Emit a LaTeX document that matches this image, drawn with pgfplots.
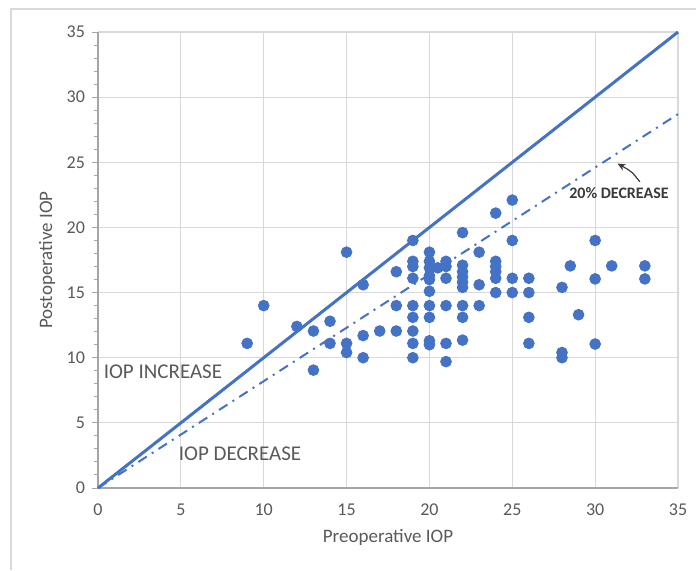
\documentclass[border=0pt]{standalone}
\usepackage{pgfplots}
\pgfplotsset{compat=1.18}
\usepackage{fontspec}
\setmainfont{Carlito}
\usetikzlibrary{arrows.meta}
\definecolor{xblue}{HTML}{4472C4}
\definecolor{xgrid}{HTML}{D9D9D9}
\definecolor{xtext}{HTML}{595959}
\definecolor{xdark}{HTML}{3A3A3A}
\begin{document}
\begin{tikzpicture}
\useasboundingbox (-49pt,-41pt) rectangle (299pt,244pt);
\draw[xgrid, line width=0.6pt] (-43.5pt,-41pt) -- (-43.5pt,239.5pt) -- (299pt,239.5pt);
\begin{axis}[
  scale only axis, width=290pt, height=228pt,
  xmin=0, xmax=35, ymin=0, ymax=35,
  xtick={0,5,...,35}, ytick={0,5,...,35},
  minor y tick num=4,
  grid=major, major grid style={xgrid, line width=0.6pt},
  axis x line*=bottom, axis y line*=left,
  x axis line style={draw=gray!70, line width=0.6pt},
  y axis line style={draw=gray!70, line width=0.6pt},
  tick style={gray!70, line width=0.5pt},
  major tick length=3pt, minor tick length=2pt,
  xtick style={draw=none},
  tick align=outside,
  /pgf/number format/assume math mode=true,
  ticklabel style={font=\fontsize{9}{10}\selectfont, text=xtext},
  xticklabel style={yshift=-1.5pt},
  yticklabel style={xshift=0pt},
  xlabel={Preoperative IOP}, ylabel={Postoperative IOP},
  every axis x label/.style={at={(axis description cs:0.5,0)}, anchor=center, yshift=-24.5pt, font=\fontsize{9.5}{11}\selectfont, text=xtext},
  every axis y label/.style={at={(axis description cs:0,0.5)}, rotate=90, anchor=center, yshift=25.5pt, font=\fontsize{9.5}{11}\selectfont, text=xtext},
  clip=false,
]
\addplot[xblue, line width=1.5pt] coordinates {(0,0) (35,35)};
\addplot[xblue, line width=1pt, dash pattern=on 5pt off 3pt on 1pt off 3pt] coordinates {(0,0) (35,28.7)};
\addplot[only marks, mark=*, mark size=2.7pt, mark options={fill=xblue, draw=xblue}] table {
x y
9 11.1
10 14
12 12.4
13 12.05
13 9.05
14 12.8
14 11.1
15 18.1
15 11.1
15 10.4
16 15.6
16 11.7
16 10
17 12.05
18 16.6
18 14
18 12.05
19 19
19 17.4
19 17
19 16.1
19 14
19 13.1
19 12.05
19 11.1
19 10
20 18.1
20 17.4
20 16.9
20 16.3
20 16
20 15.1
20 14
20 13.1
20 11.3
20 11
20.5 16.9
21 17.4
21 17
21 16.1
21 14
21 11.1
21 9.7
22 19.6
22 17.1
22 16.6
22 16.2
22 15.8
22 15.4
22 14
22 13.1
22 11.35
23 18.1
23 15.6
23 14
24 21.1
24 17.4
24 17
24 16.6
24 16.1
24 15
25 22.1
25 19
25 16.1
25 15
26 16.1
26 15
26 13.1
26 11.1
28 15.4
28 10.4
28 10
28.5 17.05
29 13.3
30 19
30 16.05
30 11.05
31 17.05
33 17.05
33 16.05
};
\node[font=\fontsize{10.5}{12}\selectfont, text=xtext] at (axis cs:3.92,8.9) {IOP INCREASE};
\node[font=\fontsize{10.5}{12}\selectfont, text=xtext] at (axis cs:8.57,2.61) {IOP DECREASE};
\node[font=\bfseries\fontsize{8}{9}\selectfont, text=xdark] at (axis cs:31.44,22.64) {20\% DECREASE};
\draw[xdark, line width=0.6pt, -{Stealth[length=4pt,width=3.5pt]}] (axis cs:32.7,23.5) .. controls (axis cs:32.2,24.3) .. (axis cs:31.35,24.9);
\end{axis}
\end{tikzpicture}
\end{document}
